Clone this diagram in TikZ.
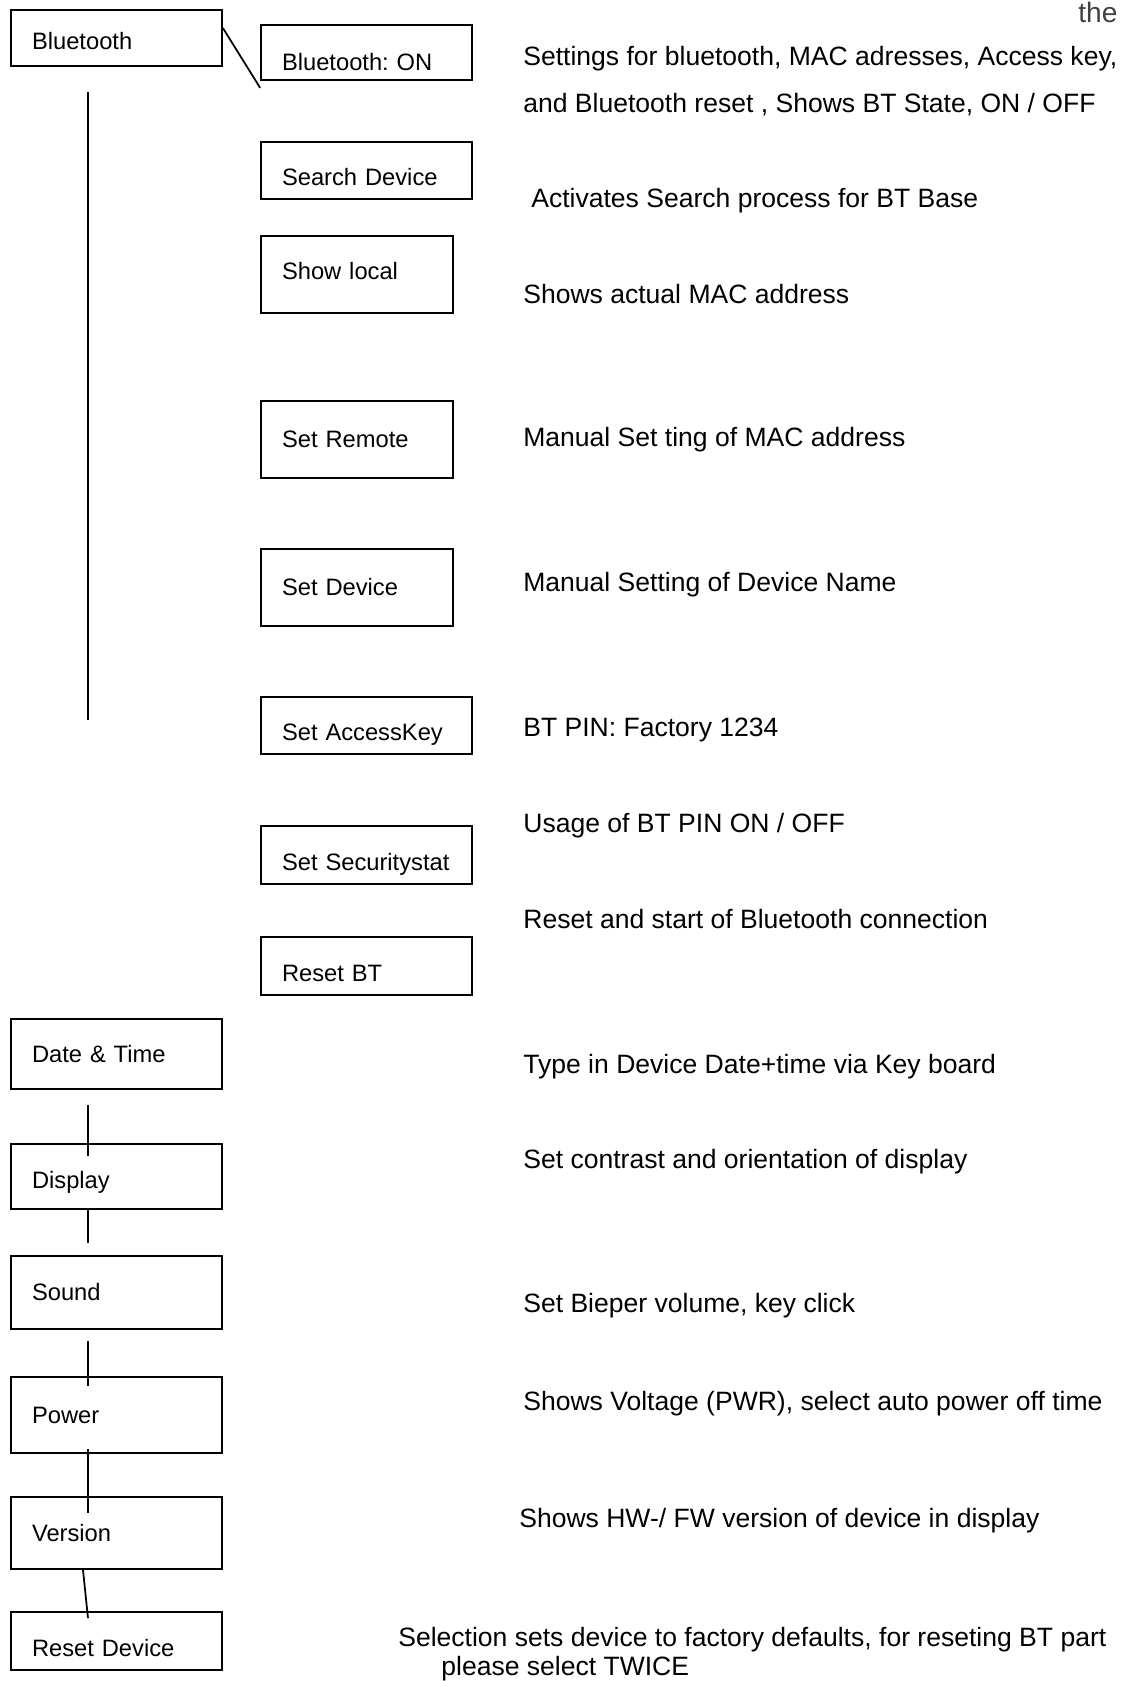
\documentclass[tikz,border=0pt]{standalone}
\usepackage{fontspec}
\setmainfont{Liberation Sans}
\usepackage{tikz}
\usetikzlibrary{positioning, calc}
\frenchspacing
\tikzset{
  %% Menu entry box
  menubox/.style={
    rectangle, draw=black, line width=1pt,
    text width=#1, align=left,
    inner xsep=0.42cm, inner ysep=0pt,
    text height=0.34cm, text depth=0pt,
    font=\fontsize{13.5}{16}\selectfont
  },
  menubox/.default=3.38cm,
  %% Text sitting lower in its box
  lowtext/.style={text height=0.62cm},
  %% Description text
  desc/.style={
    anchor=base west, inner sep=0pt, align=left,
    font=\fontsize{15.1}{26.7}\selectfont
  },
  %% Connector line
  link/.style={draw=black, line width=1pt},
}

\begin{document}
\begin{tikzpicture}

  \useasboundingbox (0,0) rectangle (22.5,33.62);

  %% Left column: main menu
  \node[menubox, minimum height=1.12cm, text height=0.48cm] (bt)       at (2.33,32.86) {Bluetooth};
  \node[menubox, minimum height=1.40cm]                     (datetime) at (2.33,12.54) {Date \& Time};
  \node[menubox, minimum height=1.30cm, text height=0.48cm] (display)  at (2.33,10.09) {Display};
  \node[menubox, minimum height=1.46cm]                     (sound)    at (2.33,7.77)  {Sound};
  \node[menubox, minimum height=1.52cm]                     (power)    at (2.33,5.32)  {Power};
  \node[menubox, minimum height=1.44cm]                     (version)  at (2.33,2.96)  {Version};
  \node[menubox, minimum height=1.16cm, lowtext]            (resetdev) at (2.33,0.80)  {Reset Device};

  %% Bluetooth sub menu
  \node[menubox, minimum height=1.10cm, text height=0.72cm] (bton)      at (7.33,32.57) {Bluetooth: ON};
  \node[menubox, minimum height=1.14cm, lowtext]            (search)    at (7.33,30.21) {Search Device};
  \node[menubox=3.0cm, minimum height=1.54cm, text height=0.2cm] (showlocal) at (7.14,28.13) {Show local};
  \node[menubox=3.0cm, minimum height=1.54cm]               (setremote) at (7.14,24.83) {Set Remote};
  \node[menubox=3.0cm, minimum height=1.54cm]               (setdevice) at (7.14,21.87) {Set Device};
  \node[menubox, minimum height=1.14cm, lowtext]            (accesskey) at (7.33,19.11) {Set AccessKey};
  \node[menubox, minimum height=1.16cm, lowtext]            (secstat)   at (7.33,16.52) {Set Securitystat};
  \node[menubox, minimum height=1.16cm, lowtext]            (resetbt)   at (7.33,14.30) {Reset BT};

  %% Descriptions (base = last line)
  \node[desc] (btinfo)      at (10.46,31.37) {Settings for bluetooth, MAC adresses, Access key,\\and Bluetooth reset , Shows BT State, ON / OFF};
  \node[desc] (searchinfo)  at (10.62,29.46) {Activates Search process for BT Base};
  \node[desc] (localinfo)   at (10.46,27.54) {Shows actual MAC address};
  \node[desc] (remoteinfo)  at (10.46,24.68) {Manual Set ting of MAC address};
  \node[desc] (deviceinfo)  at (10.46,21.79) {Manual Setting of Device Name};
  \node[desc] (keyinfo)     at (10.46,18.89) {BT PIN: Factory 1234};
  \node[desc] (secinfo)     at (10.46,16.97) {Usage of BT PIN ON / OFF};
  \node[desc] (resetinfo)   at (10.46,15.05) {Reset and start of Bluetooth connection};
  \node[desc] (dateinfo)    at (10.46,12.15) {Type in Device Date+time via Key board};
  \node[desc] (displayinfo) at (10.46,10.25) {Set contrast and orientation of display};
  \node[desc] (soundinfo)   at (10.46,7.37)  {Set Bieper volume, key click};
  \node[desc] (powerinfo)   at (10.46,5.41)  {Shows Voltage (PWR), select auto power off time};
  \node[desc] (versioninfo) at (10.38,3.07)  {Shows HW-/ FW version of device in display};
  \node[desc, font=\fontsize{15.1}{16.5}\selectfont] (defaultinfo) at (7.96,0.12)
       {Selection sets device to factory defaults, for reseting BT part\\\hspace*{0.86cm}please select TWICE};

  %% Cut off word at the top
  \node[anchor=base west, inner sep=0pt, text=black!75,
        font=\fontsize{16}{18}\selectfont] (cut) at (21.56,33.16) {the};

  %% Connectors
  \draw[link] ($(bt.east)+(0,0.2)$) -- ($(bton.south west)+(0,-0.14)$);
  \coordinate (bttop) at (1.76,31.78);
  \coordinate (btbot) at (1.76,19.22);
  \draw[link] (bttop) -- (btbot);

  \draw[link] ($(datetime.south)+(-0.57,-0.30)$) -- ($(display.north)+(-0.57,-0.26)$);
  \draw[link] ($(display.south)+(-0.57,0)$)      -- ($(sound.north)+(-0.57,0.24)$);
  \draw[link] ($(sound.south)+(-0.57,-0.22)$)    -- ($(power.north)+(-0.57,-0.20)$);
  \draw[link] ($(power.south)+(-0.57,0.1)$)      -- ($(version.north)+(-0.57,-0.34)$);
  \draw[link] ($(version.south)+(-0.67,0)$)      -- ($(resetdev.north)+(-0.57,-0.14)$);

\end{tikzpicture}
\end{document}
